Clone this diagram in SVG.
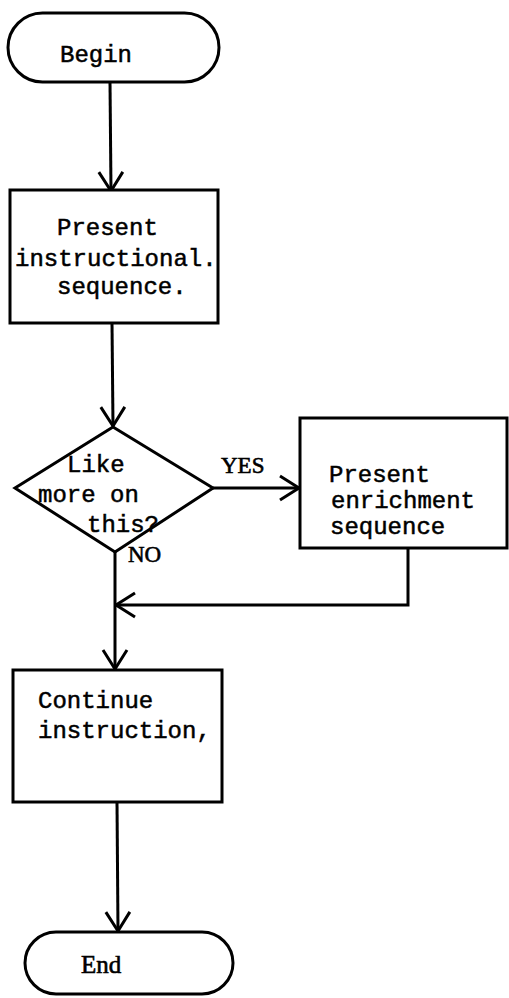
<svg xmlns="http://www.w3.org/2000/svg" width="509" height="998" viewBox="0 0 509 998">
  <style>
    .shape { fill: #ffffff; stroke: #000000; stroke-width: 3; }
    .wire { fill: none; stroke: #000000; stroke-width: 3; }
    .mono { font-family: "Liberation Mono", "Courier New", monospace; font-size: 24px; fill: #000000; stroke: #000000; stroke-width: 0.5; }
    .serif { font-family: "Liberation Serif", "Times New Roman", serif; font-size: 23px; fill: #000000; stroke: #000000; stroke-width: 0.6; }
  </style>
  <defs>
    <!-- open V arrowhead -->
    <marker id="arrow" markerUnits="userSpaceOnUse" viewBox="-22 -15 24 30" refX="0" refY="0" markerWidth="24" markerHeight="30" orient="auto">
      <path d="M-19,-12 L0,0 L-19,12" fill="none" stroke="#000000" stroke-width="3"/>
    </marker>
  </defs>
  <rect width="509" height="998" fill="#ffffff"/>

  <g id="connectors">
    <line class="wire" x1="110" y1="82" x2="111" y2="191" marker-end="url(#arrow)"/>
    <line class="wire" x1="112" y1="323" x2="113" y2="426" marker-end="url(#arrow)"/>
    <line class="wire" x1="213" y1="488" x2="299" y2="488" marker-end="url(#arrow)"/>
    <polyline class="wire" points="408,548 408,605 116,605" marker-end="url(#arrow)"/>
    <line class="wire" x1="115" y1="552" x2="115" y2="669" marker-end="url(#arrow)"/>
    <line class="wire" x1="117" y1="802" x2="118" y2="931" marker-end="url(#arrow)"/>
    <text class="serif" x="221" y="473">YES</text>
    <text class="serif" x="128" y="562">NO</text>
  </g>

  <g id="begin">
    <rect class="shape" x="8" y="13" width="211" height="69" rx="34.5"/>
    <text class="mono" x="60" y="62">Begin</text>
  </g>

  <g id="present-instruction">
    <rect class="shape" x="10" y="190" width="208" height="133"/>
    <text class="mono" x="57" y="235">Present</text>
    <text class="mono" x="15" y="266">instructional.</text>
    <text class="mono" x="57" y="294">sequence.</text>
  </g>

  <g id="decision">
    <polygon class="shape" points="113,427 213,488 115,552 15,488"/>
    <text class="mono" x="67" y="472">Like</text>
    <text class="mono" x="38" y="502">more on</text>
    <text class="mono" x="87" y="532">this?</text>
  </g>

  <g id="enrichment">
    <rect class="shape" x="300" y="418" width="207" height="130"/>
    <text class="mono" x="329" y="482">Present</text>
    <text class="mono" x="331" y="508">enrichment</text>
    <text class="mono" x="330" y="534">sequence</text>
  </g>

  <g id="continue">
    <rect class="shape" x="13" y="670" width="209" height="132"/>
    <text class="mono" x="38" y="708">Continue</text>
    <text class="mono" x="38" y="738">instruction,</text>
  </g>

  <g id="end">
    <rect class="shape" x="25" y="932" width="208" height="62" rx="31"/>
    <text class="serif" x="81" y="973" style="font-size:25px">End</text>
  </g>
</svg>
